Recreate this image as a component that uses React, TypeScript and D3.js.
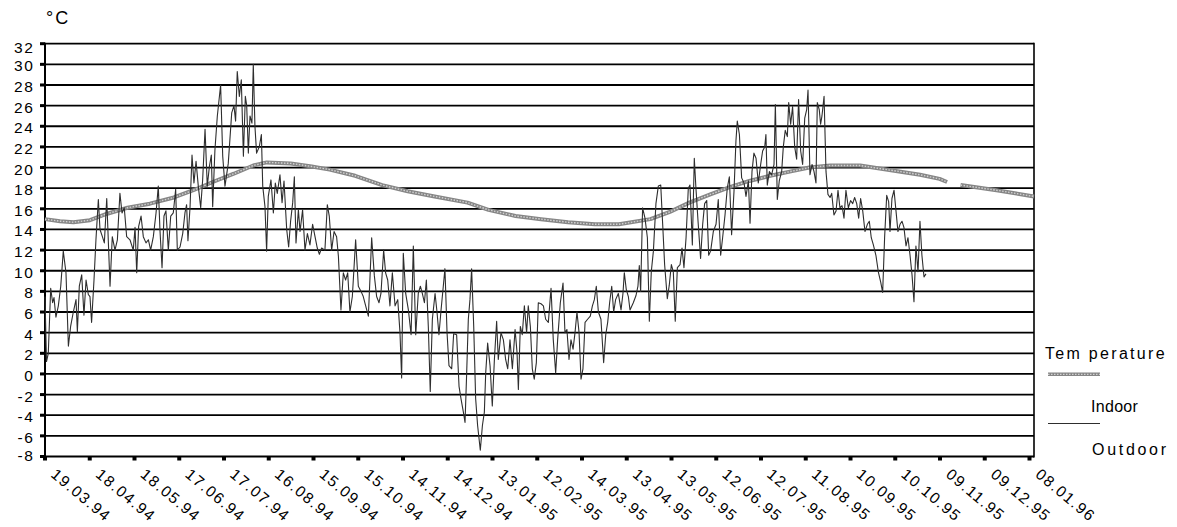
import React from 'react';
import * as d3 from 'd3';

// y-axis tick values (°C)
const yTickValues = [32, 30, 28, 26, 24, 22, 20, 18, 16, 14, 12, 10, 8, 6, 4, 2, 0, -2, -4, -6, -8];

// x-axis category labels, every 30 days
const xTickLabels = [
  '19.03.94', '18.04.94', '18.05.94', '17.06.94', '17.07.94', '16.08.94', '15.09.94', '15.10.94',
  '14.11.94', '14.12.94', '13.01.95', '12.02.95', '14.03.95', '13.04.95', '13.05.95', '12.06.95',
  '12.07.95', '11.08.95', '10.09.95', '10.10.95', '09.11.95', '09.12.95', '08.01.96',
];

// Indoor temperature: day since 19.03.94, value (null = gap)
const indoorDays = [0, 10, 19, 30, 41, 55, 70, 86, 99, 112, 126, 139, 148, 164, 178, 190, 207, 225, 242, 260, 282, 296, 314, 331, 349, 367, 383, 404, 417, 430, 444, 457, 470, 484, 497, 510, 524, 544, 557, 571, 584, 597, 602, 606, 611, 635, 660];
const indoorTemps: (number | null)[] = [15.0, 14.8, 14.7, 14.9, 15.5, 16.1, 16.5, 17.1, 17.8, 18.6, 19.4, 20.2, 20.5, 20.4, 20.1, 19.8, 19.2, 18.3, 17.7, 17.2, 16.6, 15.9, 15.3, 15.0, 14.7, 14.5, 14.5, 15.0, 15.7, 16.6, 17.4, 18.1, 18.7, 19.2, 19.6, 20.0, 20.2, 20.2, 19.9, 19.6, 19.3, 18.9, 18.6, null, 18.3, 17.8, 17.2];

// Outdoor temperature readings: [day since 19.03.94, °C]
const outdoorReadings: [number, number][] = [
  [0, 7.5], [1, 1.2], [2.2, 2], [3.8, 8.3], [5.1, 6.9], [6, 7.4], [7.3, 5.5], [8.9, 6.6], [10.5, 8.5], [12.2, 11.9],
  [14, 9.8], [15.6, 2.7], [17.1, 4.6], [18.9, 6], [20.7, 7.2], [21.6, 4.1], [22.9, 8.5], [24.5, 9.6], [26, 5.7], [27.4, 9.1],
  [28.9, 7.7], [30, 7.5], [31.1, 5], [32.7, 9.1], [34, 13], [35.6, 16.9], [36.7, 14], [38.3, 13.3], [39.6, 12.7], [41.2, 17],
  [42.3, 12.7], [43.4, 8.5], [44.9, 13.3], [46.7, 12], [48.3, 13], [50, 17.5], [51.4, 15.6], [52.9, 16.1], [54.5, 13.3], [56.7, 13],
  [58.9, 12], [60.1, 14.2], [61.2, 9.8], [62.5, 14.3], [64.1, 15.3], [65.6, 13.3], [67.4, 12.7], [69, 13], [70.5, 12], [72.3, 13.3],
  [74.1, 15.6], [75.6, 18.2], [76.7, 14], [78.1, 10.3], [79.4, 15.3], [80.7, 15.8], [82.3, 12], [83.9, 15.3], [85.6, 15.6], [87.2, 17.9],
  [88.3, 12], [90.1, 12.3], [91.9, 13.6], [93.4, 15.6], [94.5, 16.4], [95.4, 12.9], [96.8, 16.2], [98.1, 21.2], [99.4, 18.5], [100.8, 20.6],
  [102.3, 18.2], [103.9, 16.1], [105.2, 18.8], [106.8, 23.7], [108.3, 18.2], [109.7, 20.1], [111, 21.2], [111.9, 16.2], [113.4, 21.7], [115, 25],
  [117.2, 28], [118.6, 21.1], [120.1, 18.2], [122.3, 20.4], [124.6, 25.3], [126.1, 26], [127.2, 24.5], [128.3, 29.3], [129.7, 26.9], [131, 28.5],
  [132.4, 21.1], [133.7, 26.9], [134.6, 26], [135.7, 21.4], [136.8, 25], [138.1, 24.3], [139, 30], [140.1, 24], [141.2, 21.4], [143, 22],
  [144.4, 23.2], [145.3, 18.2], [146.8, 16.2], [147.9, 11.9], [149, 17.2], [150.8, 18.8], [152.4, 15.6], [153.7, 18.5], [155, 17.5], [156.8, 19.3],
  [158.2, 16.6], [159.5, 18.7], [161.3, 14], [162.6, 12.3], [163.9, 14.8], [165.3, 16.6], [166.4, 19.1], [167.5, 12.7], [169.1, 15.9], [170.2, 13.8],
  [171.9, 15.9], [173.5, 12], [175.1, 13.6], [176.8, 12.5], [178.6, 14.5], [180.2, 13.3], [181.7, 12.2], [183.1, 11.6], [184.6, 12.2], [186.8, 12],
  [188.4, 16.4], [189.7, 15.3], [191.3, 12], [192.9, 13.8], [194.6, 13.3],
  [195.8, 11.4], [197.5, 6.2], [199.1, 9.8], [200.6, 9.1], [202, 9.8], [203.5, 6], [205.1, 7.5], [207.3, 13], [209.1, 8.5], [210.9, 8],
  [212.4, 7.5], [214, 6.6], [215.8, 5.6], [218, 13.2], [219.8, 9.5], [221.3, 7.5], [222.9, 6.9], [224.2, 7.8], [226, 12], [227.3, 9.8],
  [228.7, 9.1], [230.2, 6.6], [231.8, 9.8], [233.6, 6.6], [235.4, 7.2], [236.9, 4], [238, -0.4], [239.1, 11.7], [240.7, 7.8], [242.5, 6.2],
  [244.3, 3.8], [245.8, 12.4], [247.4, 3.8], [249.1, 7.8], [250.5, 8.5], [251.8, 7.8], [253.2, 6.9], [254.5, 9.1], [255.8, 4.6], [257.1, -1.7],
  [258.5, 5.3], [260.3, 7.8], [261.6, 6], [262.9, 3.8], [264.3, 6.2], [265.8, 8.5], [266.9, 10.2], [268.3, 4], [269.6, 0.8], [271.4, 0.5],
  [272.7, 3.9], [274.7, 3.8], [276.3, -1.2], [277.6, -2.4], [279.2, -3.7], [280.3, -4.7], [281.4, 0.1], [282.5, 5.3], [283.6, 7.2], [284.7, 10.2],
  [286.1, 4.6], [287.4, -2.4], [288.7, -5], [290.5, -7.4], [291.9, -5], [293.2, -3.7], [294.1, 0.1], [295.4, 3], [297, 0.8], [298.5, -3.1],
  [299.9, 1.4], [301.4, 5.1], [302.5, 1.4], [304.3, 4], [305.9, 3.3], [307.4, 1.4], [308.8, 0.5], [310.3, 3.3], [311.9, 0.5], [313.7, 4.3],
  [315, 2.1], [315.9, -1.5], [317.2, 4.6], [318.5, 3.8], [319.9, 6.6], [321.4, 4], [322.5, 6.6], [323.9, 4.6], [325.2, 0.5], [326.5, -0.5],
  [327.9, 1.1], [329.2, 6.9], [331, 6.8], [332.6, 6.6], [334.1, 5.3], [335.9, 5], [337.7, 8.3], [339.2, 3.3], [340.8, 0.1], [342.1, 3.3],
  [343.9, 6.9], [345.7, 8.8], [347, 4], [348.3, 4.3], [349.7, 1.4], [351, 3.3], [352.4, 2.4], [353.7, 4], [355, 6], [356.4, 4],
  [357.7, -0.5], [359, 0.5], [360.4, 5], [362.1, 5.3], [363.9, 5.6], [365.3, 6.6], [366.6, 7.2], [367.9, 8.5], [369.3, 6], [371, 5.3],
  [372.8, 1.1], [374.2, 3.8], [375.5, 5], [376.8, 6.9], [378.2, 8.5], [379.5, 6], [380.8, 7.2], [382.6, 7.8], [384.4, 6.2], [385.7, 7.8],
  [386.6, 9.8], [387.9, 8.2], [389.3, 7.5],
  [390.4, 6.2], [392.6, 6.9], [394.4, 7.6], [395.7, 8.5], [396.6, 10.5], [397.5, 8], [398.8, 16.1], [400.4, 15.1], [402, 13.2], [403.3, 5.1],
  [404.6, 9.9], [406, 11.9], [407.7, 16.5], [409.3, 18.2], [410.9, 18.3], [412.2, 14.5], [413.5, 10.6], [415.3, 7.3], [416.6, 8.6], [418, 10.6],
  [419.3, 9.9], [420.6, 5.1], [422, 10.3], [423.8, 10.6], [425.1, 12.2], [426.4, 10.3], [427.8, 13.2], [429.3, 18], [430.4, 18.3], [432, 12.5],
  [433.3, 20.9], [434.4, 18], [435.8, 14.8], [437.5, 11.2], [438.9, 14.5], [440.2, 16.5], [441.6, 16.8], [442.9, 11.5], [444.2, 11.9], [446, 13.8],
  [447.8, 14.5], [449.3, 16.9], [450.9, 11.5], [452.2, 13.2], [453.8, 15.4], [455.3, 18], [456.7, 19.1], [458.2, 13.5], [459.8, 17.7], [461.1, 22.6],
  [462, 24.5], [463.4, 23.2], [464.9, 19], [466.5, 18.5], [467.8, 17.2], [469.4, 18.7], [470.5, 14.6], [471.8, 19.6], [473.1, 21.4], [474.5, 20.9],
  [476, 18.5], [477.6, 20.3], [478.9, 21.6], [480.3, 22], [481.1, 23.2], [482, 18.3], [483.4, 19.6], [484.9, 19.3], [486.5, 20.3], [487.4, 26.1],
  [488.7, 16.9], [490, 18.7], [491.6, 19.6], [492.7, 22], [494, 23.6], [495.4, 23], [496.3, 26.3], [497.6, 24.2], [498.9, 25.9], [500.3, 22],
  [501.6, 20.8], [502.9, 26.6], [504.3, 21.6], [505.6, 20.3], [507, 24.8], [508.3, 25.6], [509.2, 27.5], [510.5, 19.3], [511.9, 20.3], [513.2, 19.6],
  [514.5, 18.5], [515.4, 26.3], [516.7, 25.6], [517.6, 24.2], [518.5, 25], [519.9, 26.9], [521.2, 19.6], [522.5, 17.4], [523.9, 17.1], [525, 17.5],
  [526.5, 15.4], [527.9, 15.8], [529.2, 17.8], [530.5, 16.1], [531.9, 16.3], [533.2, 15.1], [534.5, 17.8], [536.1, 16.1], [537.6, 16.8], [539, 16.5],
  [540.3, 17.1], [541.7, 16.5], [543, 15.1], [544.3, 17], [545.7, 15.8], [547.2, 13.8], [548.8, 14.5], [550.1, 14.8], [551.4, 13.2], [552.8, 12.5],
  [554.5, 11.5], [556.1, 9.9], [557.7, 8.9], [559, 7.9], [560.3, 13.2], [561.7, 17.3], [563, 16.7], [563.9, 13.8], [565.2, 17], [566.6, 17.8],
  [567.9, 15.8], [569.2, 13.8], [570.6, 14.5], [571.9, 14.8], [573.2, 14.2], [574.6, 12.4], [575.9, 13.2], [577.2, 11.6], [578.6, 9.6], [579.9, 7],
  [581.2, 12.4], [582.6, 9.9], [583.9, 14.8], [585.2, 11.5], [586.6, 9.4], [587.9, 9.7],
];

const FONT = "'Liberation Sans', Arial, Helvetica, sans-serif";

export default function App() {
  const W = 1177;
  const H = 527;
  const left = 45;
  const right = 1034;
  const top = 43.7;
  const bottom = 456.5;

  const x = d3.scaleLinear().domain([0, 660]).range([left, right]);
  const xCat = d3.scalePoint<string>().domain(xTickLabels).range([left, 1029.5]);
  const y = d3.scaleLinear().domain([-8, 32]).range([bottom, top]);

  type P = { d: number; v: number | null };
  const indoorPts: P[] = indoorDays.map((d, i) => ({ d, v: indoorTemps[i] }));
  const indoorLine = d3
    .line<P>()
    .defined((p) => p.v !== null)
    .x((p) => x(p.d))
    .y((p) => y(p.v as number));
  const outdoorLine = d3
    .line<[number, number]>()
    .x((p) => x(p[0]))
    .y((p) => y(p[1]));

  const inPath = indoorLine(indoorPts) || '';
  const outPath = outdoorLine(outdoorReadings) || '';

  const labelY = (v: number) => Math.min(455, Math.max(47.5, y(v) + 1.5));

  return (
    <svg
      width={W}
      height={H}
      style={{ position: 'absolute', left: 0, top: 0, background: '#fff' }}
      fontFamily={FONT}
    >
      <rect x={0} y={0} width={W} height={H} fill="#fff" />
      {/* degree label */}
      <text x={46} y={24} fontSize={18} letterSpacing={2} fill="#000">°C</text>

      {/* grid lines */}
      {yTickValues.map((v) => (
        <line key={'g' + v} x1={left} x2={right} y1={y(v)} y2={y(v)} stroke="#000" strokeWidth={1.8} />
      ))}
      {/* axes / frame */}
      <line x1={left} x2={left} y1={top - 0.9} y2={bottom + 1} stroke="#000" strokeWidth={2} />
      <line x1={right} x2={right} y1={top - 0.9} y2={bottom + 1} stroke="#000" strokeWidth={1.6} />

      {/* y ticks and labels */}
      {yTickValues.map((v) => (
        <g key={'yt' + v}>
          <rect x={40} y={y(v) - 1.5} width={5} height={3} fill="#000" />
          <text
            x={34.5}
            y={labelY(v)}
            textAnchor="end"
            dominantBaseline="central"
            fontSize={15.5}
            letterSpacing={1.6}
            fill="#000"
          >
            {v}
          </text>
        </g>
      ))}

      {/* x ticks and labels */}
      {xTickLabels.map((l) => {
        const tx = xCat(l) as number;
        return (
          <g key={'xt' + l}>
            <rect x={tx - 2} y={bottom} width={4} height={4} fill="#000" />
            <text
              transform={`translate(${tx + 5},${476}) rotate(40)`}
              fontSize={15.5}
              letterSpacing={1.5}
              fill="#000"
            >
              {l}
            </text>
          </g>
        );
      })}

      {/* indoor series */}
      <path d={inPath} fill="none" stroke="#868686" strokeWidth={4} strokeLinejoin="round" />
      <path d={inPath} fill="none" stroke="#d2d2d2" strokeWidth={1.4} strokeDasharray="1.5 1.5" />

      {/* outdoor series */}
      <path d={outPath} fill="none" stroke="#2e2e2e" strokeWidth={1.1} strokeLinejoin="round" />

      {/* legend */}
      <text x={1045} y={359} fontSize={16} letterSpacing={2.3} fill="#000">Tem perature</text>
      <line x1={1048} x2={1100} y1={374.3} y2={374.3} stroke="#868686" strokeWidth={3.5} />
      <line x1={1048} x2={1100} y1={374.3} y2={374.3} stroke="#d2d2d2" strokeWidth={1.2} strokeDasharray="1.5 1.5" />
      <text x={1091} y={411.5} fontSize={16} letterSpacing={0.3} fill="#000">Indoor</text>
      <line x1={1048} x2={1100} y1={423.5} y2={423.5} stroke="#2e2e2e" strokeWidth={1.1} />
      <text x={1092} y={455} fontSize={16} letterSpacing={2.7} fill="#000">Outdoor</text>
    </svg>
  );
}
